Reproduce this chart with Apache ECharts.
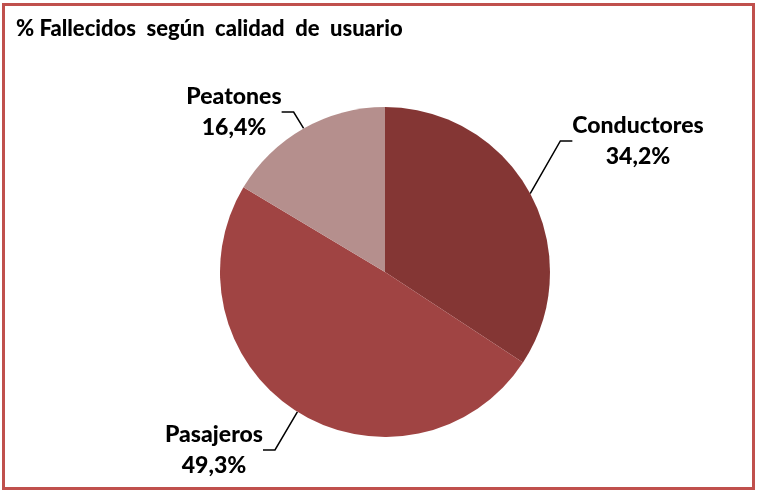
<!DOCTYPE html>
<html>
<head>
    <meta charset="utf-8">
    <title>% Fallecidos según calidad de usuario</title>
    <script src="https://cdn.jsdelivr.net/npm/echarts@6/dist/echarts.min.js"></script>
    <style>
        html, body { margin: 0; padding: 0; background: #fff; }
        #chart { width: 757px; height: 491px; }
        #frame {
            position: absolute; left: 2px; top: 3px; width: 753px; height: 487px;
            box-sizing: border-box; border: 3px solid #C0504D; pointer-events: none;
        }
    </style>
</head>
<body>
<div id="chart"></div>
<div id="frame"></div>

<script>
    var categories = ['Conductores', 'Pasajeros', 'Peatones'];
    var values = [34.2, 49.3, 16.4];
    var colors = ['#843634', '#A04443', '#B58F8D'];
    // where each label sits (centre of the text block)
    var labelPos = [[638, 141], [214, 450], [234, 112]];

    var chart = echarts.init(document.getElementById('chart'));

    var data = categories.map(function (name, i) {
        return { name: name, value: values[i], itemStyle: { color: colors[i] } };
    });

    chart.setOption({
        animation: false,
        title: {
            text: '% Fallecidos  según  calidad  de  usuario',
            left: 11,
            top: 13,
            textStyle: {
                fontFamily: 'Lato',
                fontWeight: 900,
                fontSize: 22,
                color: '#000'
            }
        },
        series: [{
            type: 'pie',
            center: [385, 272],
            radius: 165,
            startAngle: 90,
            clockwise: true,
            data: data,
            label: {
                formatter: function (p) {
                    return p.name + '\n' + p.value.toFixed(1).replace('.', ',') + '%';
                },
                fontFamily: 'Lato',
                fontWeight: 900,
                fontSize: 23,
                lineHeight: 31,
                color: '#000',
                align: 'center'
            },
            labelLine: {
                show: true,
                length: 30,
                length2: 12,
                lineStyle: { color: '#000', width: 1.5 }
            },
            labelLayout: function (params) {
                var p = labelPos[params.dataIndex];
                return {
                    x: p[0],
                    y: p[1],
                    align: 'center',
                    verticalAlign: 'middle'
                };
            },
            emphasis: { disabled: true }
        }]
    });
</script>
</body>
</html>
